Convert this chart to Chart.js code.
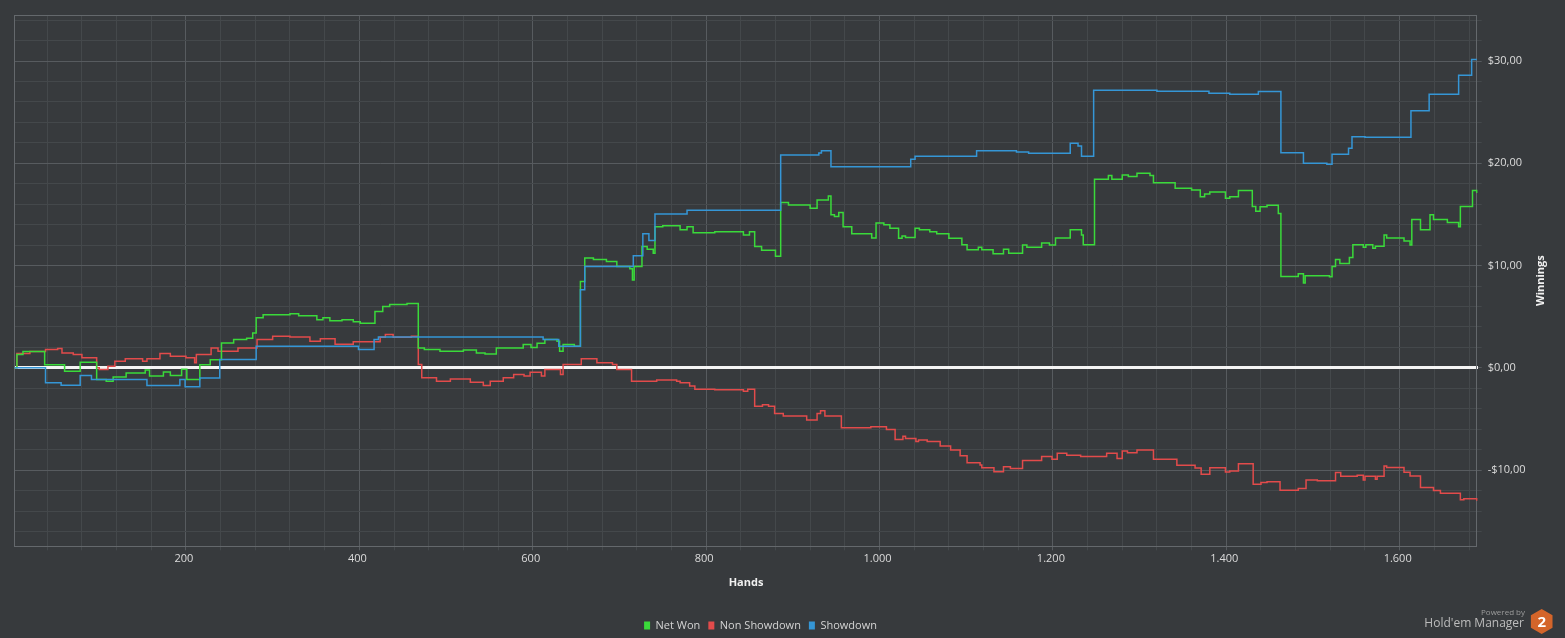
<!DOCTYPE html>
<html>
<head>
<meta charset="utf-8">
<title>Winnings</title>
<script src="https://cdn.jsdelivr.net/npm/chart.js@4.4.1/dist/chart.umd.min.js"></script>
<style>
    html, body { margin: 0; padding: 0; background: #373a3d; }
    #wrap { width: 1565px; height: 638px; }
</style>
</head>
<body>
<div id="wrap"><canvas id="winChart" width="1565" height="638"></canvas></div>
<script>
// Net Won: hand where a level starts, and the level
const netHands = [2, 5, 12, 37, 60, 78, 97, 108, 116, 131, 153, 158, 174, 182, 195, 201, 216, 228, 241, 255,
    270, 277, 281, 289, 320, 330, 351, 358, 366, 380, 393, 401, 418, 427, 435, 455, 468, 475, 493, 520,
    535, 545, 558, 589, 598, 605, 614, 628, 631, 635, 648, 655, 660, 670, 685, 697, 712, 715, 717, 726,
    732, 739, 741, 750, 770, 778, 785, 810, 843, 850, 856, 864, 880, 886, 895, 920, 928, 941, 944, 948,
    953, 958, 968, 991, 996, 1005, 1012, 1022, 1026, 1030, 1041, 1046, 1058, 1066, 1080, 1095, 1101, 1114, 1118, 1131,
    1143, 1149, 1165, 1170, 1187, 1196, 1203, 1220, 1233, 1235, 1248, 1264, 1268, 1280, 1287, 1297, 1312, 1316, 1341, 1360,
    1370, 1375, 1381, 1399, 1404, 1414, 1430, 1434, 1439, 1447, 1460, 1463, 1483, 1489, 1491, 1519, 1522, 1526, 1531, 1542,
    1546, 1558, 1561, 1569, 1572, 1582, 1585, 1605, 1612, 1614, 1624, 1635, 1639, 1655, 1668, 1670, 1684, 1689];
const netWon = [0, 1.3, 1.6, 0.3, -0.33, 0.55, -1.14, -1.3, -0.9, -0.5, -0.2, -0.8, -0.4, -0.75, -0.15, -1.14, 0.3, 0.8, 2.44, 2.76,
    2.9, 3.4, 4.9, 5.2, 5.3, 5.1, 4.7, 4.9, 4.6, 4.7, 4.5, 4.35, 5.5, 6.0, 6.2, 6.3, 1.95, 1.8, 1.62, 1.75,
    1.46, 1.35, 1.95, 2.27, 2.0, 2.4, 2.76, 2.6, 1.62, 2.27, 2.1, 8.45, 10.73, 10.6, 10.4, 9.9, 9.7, 8.6, 9.9, 11.87,
    11.6, 11.2, 13.8, 13.9, 13.5, 13.8, 13.2, 13.3, 13.0, 13.3, 11.87, 11.5, 10.9, 16.16, 15.93, 15.6, 16.4, 16.8, 14.96, 14.8,
    15.2, 13.8, 13.1, 12.7, 14.15, 13.98, 13.66, 12.68, 12.9, 12.75, 13.66, 13.5, 13.3, 13.1, 12.68, 12.03, 11.54, 11.8, 11.54, 11.15,
    11.6, 11.2, 12.0, 11.8, 12.2, 12.0, 12.7, 13.5, 13.0, 12.03, 18.44, 18.8, 18.44, 18.86, 18.7, 19.02, 18.8, 18.1, 17.56, 17.4,
    16.74, 17.0, 17.2, 16.58, 16.74, 17.33, 15.77, 15.3, 15.74, 15.9, 15.1, 8.94, 9.2, 8.3, 9.0, 8.9, 9.9, 10.6, 10.2, 10.8,
    12.03, 11.8, 12.03, 11.7, 11.9, 13.0, 12.7, 12.4, 12.0, 14.5, 13.5, 14.96, 14.5, 14.2, 13.8, 15.77, 17.33, 17.1];

// Non Showdown
const nonSdHands = [2, 5, 20, 38, 52, 57, 70, 80, 97, 100, 110, 118, 130, 150, 155, 170, 182, 200, 210, 212,
    229, 237, 260, 282, 300, 320, 343, 355, 372, 393, 424, 430, 439, 460, 468, 472, 489, 505, 528, 543,
    551, 566, 578, 590, 597, 610, 614, 632, 635, 656, 674, 692, 697, 714, 743, 766, 770, 781, 787, 810,
    843, 848, 856, 865, 872, 879, 889, 916, 928, 932, 937, 956, 990, 1001, 1008, 1018, 1027, 1030, 1042, 1045,
    1055, 1070, 1082, 1093, 1101, 1116, 1118, 1132, 1143, 1151, 1165, 1187, 1199, 1205, 1216, 1232, 1262, 1274, 1280, 1286,
    1297, 1316, 1343, 1364, 1371, 1381, 1399, 1404, 1414, 1431, 1440, 1447, 1462, 1483, 1492, 1505, 1526, 1532, 1551, 1558,
    1560, 1572, 1574, 1582, 1585, 1605, 1612, 1624, 1639, 1647, 1670, 1674, 1689];
const nonShowdown = [0, 1.4, 1.6, 1.79, 1.9, 1.46, 1.3, 0.98, 0, -0.16, 0.16, 0.65, 0.88, 0.65, 0.88, 1.4, 1.14, 0.98, 0.5, 1.3,
    1.95, 1.62, 1.95, 2.76, 3.09, 3.02, 2.6, 2.85, 2.3, 2.54, 3.0, 3.25, 3.0, 3.1, 0.32, -0.98, -1.3, -1.1, -1.4, -1.73,
    -1.3, -0.98, -0.65, -0.8, -0.42, -0.8, -0.16, -0.65, 0.32, 0.88, 0.5, 0.32, -0.16, -1.3, -1.2, -1.3, -1.46, -1.78, -2.1, -2.15,
    -2.3, -2.1, -3.75, -3.6, -3.75, -4.46, -4.72, -5.1, -4.46, -4.2, -4.72, -5.85, -5.77, -5.76, -6.02, -7.0, -6.7, -6.9, -7.2, -7.05,
    -7.2, -7.65, -8.04, -8.6, -9.27, -9.5, -9.76, -10.15, -9.66, -9.85, -9.05, -8.68, -8.95, -8.36, -8.55, -8.68, -8.36, -8.87, -8.13, -8.3,
    -8.04, -8.95, -9.53, -9.8, -10.4, -9.76, -10.18, -10.08, -9.37, -11.39, -11.2, -11.13, -11.97, -11.8, -10.96, -11.05, -10.24, -10.6, -10.5, -10.96,
    -10.6, -10.9, -10.6, -9.6, -9.75, -10.2, -10.57, -11.7, -12.0, -12.26, -12.9, -12.8, -13.0];

// Showdown
const sdHands = [2, 38, 56, 78, 91, 155, 193, 199, 216, 239, 281, 399, 417, 422, 612, 630, 655, 660, 716, 727,
    734, 741, 778, 886, 930, 933, 944, 1036, 1041, 1112, 1158, 1172, 1220, 1229, 1233, 1247, 1320, 1380, 1404, 1437,
    1463, 1489, 1516, 1522, 1541, 1545, 1560, 1613, 1634, 1668, 1683, 1689];
const showdown = [0, -1.46, -1.7, -0.75, -1.14, -1.72, -1.14, -1.86, -1.0, 0.81, 2.11, 1.79, 2.76, 3.02, 2.76, 2.11, 7.64, 9.9, 10.95, 13.1,
    12.45, 15.05, 15.4, 20.8, 21.0, 21.23, 19.67, 20.4, 20.7, 21.23, 21.1, 20.97, 21.95, 21.7, 20.7, 27.15, 27.05, 26.85, 26.76, 27.02,
    21.03, 20.0, 19.9, 20.88, 21.46, 22.6, 22.55, 25.13, 26.76, 28.6, 30.15, 30.15];

// Axis ranges
const handsMin = 2;
const handsMax = 1690;
const winMin = -17.45;
const winMax = 34.5;

const BG = '#373a3d';
const GRID_MINOR = '#44484b';
const GRID_MAJOR = '#575b5f';
const BORDER = '#64686c';
const TEXT = '#dcdcdc';

function fmtHands(v) {
    if (v >= 1000) return Math.floor(v / 1000) + '.' + String(v % 1000).padStart(3, '0');
    return String(v);
}

function fmtMoney(v) {
    return (v < 0 ? '-$' : '$') + Math.abs(v) + ',00';
}

function toPoints(xs, ys) {
    return xs.map((x, i) => ({ x: x, y: ys[i] }));
}

// Background, plot frame, axis titles and the watermark
const decorPlugin = {
    id: 'decor',
    beforeDraw(chart) {
        const c = chart.ctx;
        c.save();
        c.fillStyle = BG;
        c.fillRect(0, 0, chart.width, chart.height);
        c.restore();
    },
    beforeDatasetsDraw(chart) {
        const c = chart.ctx;
        const a = chart.chartArea;
        c.save();
        c.strokeStyle = BORDER;
        c.lineWidth = 1;
        c.strokeRect(Math.round(a.left) + 0.5, Math.round(a.top) + 0.5,
            Math.round(a.right - a.left) - 1, Math.round(a.bottom - a.top));
        c.restore();
    },
    afterDraw(chart) {
        const c = chart.ctx;
        const a = chart.chartArea;
        c.save();
        c.fillStyle = '#f0f0f0';
        c.font = "bold 11px 'Open Sans', sans-serif";
        c.textAlign = 'center';
        c.textBaseline = 'middle';
        c.fillText('Hands', (a.left + a.right) / 2, a.bottom + 37);

        c.translate(a.right + 63, (a.top + a.bottom) / 2);
        c.rotate(-Math.PI / 2);
        c.fillText('Winnings', 0, 0);
        c.restore();

        // Powered by Hold'em Manager 2
        c.save();
        c.textAlign = 'right';
        c.textBaseline = 'middle';
        c.fillStyle = '#9c9c9c';
        c.font = "8px 'Open Sans', sans-serif";
        c.fillText('Powered by', 1525, 613);
        c.fillStyle = '#bcbcbc';
        c.font = "12px 'Open Sans', sans-serif";
        c.fillText("Hold'em Manager", 1524, 624);

        const cx = 1541.7, cy = 621.5, r = 12.5;
        c.beginPath();
        for (let i = 0; i < 6; i++) {
            const ang = i * Math.PI / 3 - Math.PI / 2;
            const px = cx + r * Math.cos(ang);
            const py = cy + r * Math.sin(ang);
            if (i === 0) c.moveTo(px, py); else c.lineTo(px, py);
        }
        c.closePath();
        c.fillStyle = '#d4652a';
        c.fill();
        c.fillStyle = '#ffffff';
        c.textAlign = 'center';
        c.font = "bold 15px 'Open Sans', sans-serif";
        c.fillText('2', cx, cy + 1);
        c.restore();
    }
};

Chart.defaults.font.family = "'Open Sans', sans-serif";
Chart.defaults.font.size = 11;
Chart.defaults.color = TEXT;

const ctx = document.getElementById('winChart').getContext('2d');

new Chart(ctx, {
    type: 'line',
    data: {
        datasets: [
            {
                label: 'Net Won',
                data: toPoints(netHands, netWon),
                borderColor: '#3ada3a',
                backgroundColor: '#3ada3a',
                order: 1
            },
            {
                label: 'Non Showdown',
                data: toPoints(nonSdHands, nonShowdown),
                borderColor: '#e24b4b',
                backgroundColor: '#e24b4b',
                order: 2
            },
            {
                label: 'Showdown',
                data: toPoints(sdHands, showdown),
                borderColor: '#3596d6',
                backgroundColor: '#3596d6',
                order: 0
            }
        ]
    },
    options: {
        responsive: false,
        animation: false,
        events: [],
        // negative left padding keeps the legend centred where the reference has it
        layout: { padding: { left: -44, right: 0, top: 15, bottom: -3 } },
        elements: {
            line: { borderWidth: 1.5, stepped: true, tension: 0, fill: false },
            point: { radius: 0 }
        },
        plugins: {
            tooltip: { enabled: false },
            legend: {
                position: 'bottom',
                labels: {
                    boxWidth: 6,
                    boxHeight: 8,
                    padding: 8,
                    color: '#d4d4d4',
                    font: { size: 11 },
                    sort: (a, b) => a.datasetIndex - b.datasetIndex,
                    generateLabels: chart => Chart.defaults.plugins.legend.labels.generateLabels(chart)
                        .map(l => Object.assign(l, { lineWidth: 0 }))
                }
            }
        },
        scales: {
            x: {
                type: 'linear',
                min: handsMin,
                max: handsMax,
                afterBuildTicks: s => {
                    const t = [];
                    for (let v = 40; v < handsMax; v += 40) t.push({ value: v });
                    s.ticks = t;
                },
                afterFit: s => { s.height = 65.7; },
                border: { display: false },
                grid: {
                    color: c => (c.tick && c.tick.value % 200 === 0) ? GRID_MAJOR : GRID_MINOR,
                    tickLength: 4
                },
                ticks: {
                    autoSkip: false,
                    maxRotation: 0,
                    padding: 2,
                    labelOffset: -2,
                    color: TEXT,
                    callback: v => v % 200 === 0 ? fmtHands(v) : ''
                }
            },
            y: {
                position: 'right',
                min: winMin,
                max: winMax,
                afterBuildTicks: s => {
                    const t = [];
                    for (let v = -16; v <= 34; v += 2) t.push({ value: v });
                    s.ticks = t;
                },
                afterFit: s => { s.width = 87.3; },
                border: { display: false },
                grid: {
                    color: c => {
                        const v = c.tick ? c.tick.value : 1;
                        if (v === 0) return '#f4f4f4';
                        return v % 10 === 0 ? GRID_MAJOR : GRID_MINOR;
                    },
                    lineWidth: c => (c.tick && c.tick.value === 0) ? 3 : 1,
                    tickColor: c => (c.tick && c.tick.value % 10 === 0) ? GRID_MAJOR : GRID_MINOR,
                    tickWidth: 1,
                    tickLength: 4
                },
                ticks: {
                    autoSkip: false,
                    padding: 6,
                    color: TEXT,
                    callback: v => v % 10 === 0 ? fmtMoney(v) : ''
                }
            },
            yLeft: {
                position: 'left',
                display: true,
                grid: { display: false },
                border: { display: false },
                ticks: { display: false },
                afterFit: s => { s.width = 58.3; }
            }
        }
    },
    plugins: [decorPlugin]
});
</script>
</body>
</html>
